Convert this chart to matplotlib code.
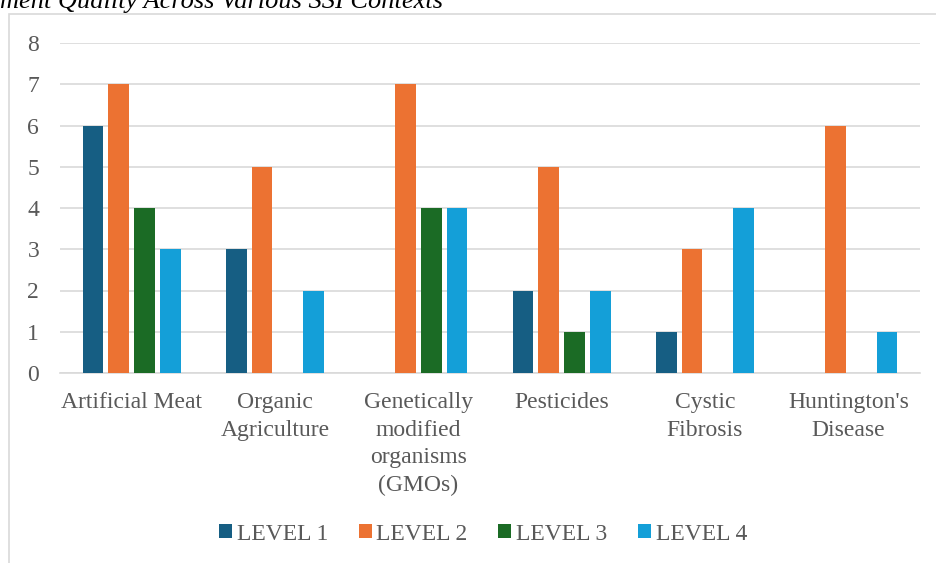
import numpy as np
import matplotlib.pyplot as plt
from matplotlib.patches import Rectangle

contexts = ["Artificial Meat", "Organic\nAgriculture", "Genetically\nmodified\norganisms\n(GMOs)",
            "Pesticides", "Cystic\nFibrosis", "Huntington's\nDisease"]
levels = ["LEVEL 1", "LEVEL 2", "LEVEL 3", "LEVEL 4"]
level1 = [6, 3, 0, 2, 1, 0]
level2 = [7, 5, 7, 5, 3, 6]
level3 = [4, 0, 4, 1, 0, 0]
level4 = [3, 2, 4, 2, 4, 1]
colors = ["#165E83", "#EC7232", "#1B6B25", "#149FD8"]

plt.rcParams['font.family'] = ['Liberation Serif', 'DejaVu Serif']
txt = "#595959"

fig = plt.figure(figsize=(9.36, 5.63), dpi=100)
ax = fig.add_axes([60 / 936, 1 - 373 / 563, 860 / 936, 330 / 563])

# outer chart border (cut at the right and bottom)
fig.patches.append(Rectangle((9 / 936, -0.1), 1.2, 1 - 14 / 563 + 0.1, transform=fig.transFigure,
                             fill=False, edgecolor="#D9D9D9", linewidth=1.2, zorder=0))
fig.text(0.0, 1 - 8 / 563, "ment Quality Across Various SSI Contexts", fontsize=19,
         style="italic", color="black", ha="left", va="baseline")

x = np.arange(len(contexts))
pitch = 0.18
width = 0.145
series = [level1, level2, level3, level4]
for i, (vals, name, c) in enumerate(zip(series, levels, colors)):
    ax.bar(x + (i - 1.5) * pitch, vals, width, color=c, label=name, zorder=3)

ax.set_xlim(-0.5, len(contexts) - 0.5)
ax.set_ylim(0, 8)
ax.set_yticks(range(9))
ax.yaxis.grid(True, color="#D9D9D9", linewidth=1.2, zorder=0)
ax.set_axisbelow(True)
for s in ["top", "right", "left"]:
    ax.spines[s].set_visible(False)
ax.spines["bottom"].set_color("#D9D9D9")
ax.spines["bottom"].set_linewidth(1.2)
ax.tick_params(axis="both", length=0, colors=txt, labelsize=17)
ax.tick_params(axis="y", pad=15)
ax.tick_params(axis="x", pad=14)
ax.set_xticks(x)
ax.set_xticklabels(contexts, linespacing=1.4)

ax.legend(loc="center", bbox_to_anchor=(483 / 936, 1 - 534 / 563), bbox_transform=fig.transFigure,
          ncol=4, frameon=False, fontsize=17, labelcolor=txt, handlelength=0.55, handleheight=0.55,
          handletextpad=0.2, columnspacing=1.3)

fig.savefig("out.png")
